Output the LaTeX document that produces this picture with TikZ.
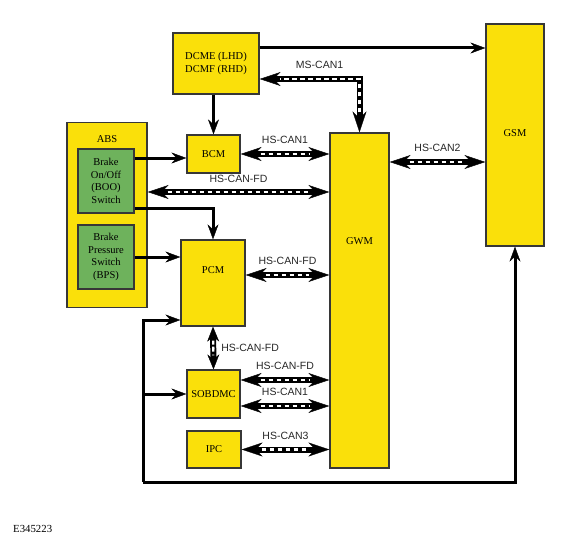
\documentclass[tikz,border=0pt]{standalone}
\usepackage{fontspec}
\setmainfont{Liberation Serif}
\setsansfont{Liberation Sans}
\usetikzlibrary{arrows.meta}

\definecolor{modyellow}{RGB}{250,224,10}
\definecolor{absgreen}{RGB}{110,178,92}
\definecolor{boxline}{RGB}{55,55,55}

\begin{document}
\begin{tikzpicture}[x=1pt, y=-1pt,
  font=\fontsize{10.5}{12.5}\selectfont,
  module/.style={draw=boxline, line width=1.3pt, fill=modyellow,
    inner sep=0pt, align=center},
  switchbox/.style={module, fill=absgreen},
  link/.style={line width=3pt,
    -{Stealth[length=15pt, width=11pt, inset=5pt, line width=0.4pt]}},
  canbus/.style={line width=6pt,
    {Stealth[length=21pt, width=14pt, inset=7pt, line width=0.4pt]}-{Stealth[length=21pt, width=14pt, inset=7pt, line width=0.4pt]},
    postaction={draw, -, white, line width=2.3pt,
      dash pattern=on 4.5pt off 3.5pt, shorten >=20pt, shorten <=20pt}},
  shortbus/.style={canbus,
    {Stealth[length=15pt, width=12pt, inset=5pt, line width=0.4pt]}-{Stealth[length=15pt, width=12pt, inset=5pt, line width=0.4pt]},
    postaction={draw, -, white, line width=2.3pt,
      dash pattern=on 4pt off 3pt, shorten >=14pt, shorten <=14pt}},
  canlabel/.style={font=\sffamily\fontsize{10.5}{12}\selectfont,
    text=black!85, inner sep=1pt}]
\useasboundingbox (0,0) rectangle (573,551);

% modules
\node[module, minimum width=86pt, minimum height=61pt] (dcme) at (216,63.5)
  {DCME (LHD)\\DCMF (RHD)};
\node[module, minimum width=58pt, minimum height=222pt,
  label={[yshift=2pt]center:GSM}] (gsm) at (515,135) {};
\node[module, minimum width=80pt, minimum height=185pt,
  label={[anchor=north, yshift=-10pt]north:ABS}] (abs) at (107,215) {};
\node[switchbox, minimum width=56pt, minimum height=64pt] (boo) at (106,181)
  {Brake\\On/Off\\(BOO)\\Switch};
\node[switchbox, minimum width=56pt, minimum height=64pt] (bps) at (106,257)
  {Brake\\Pressure\\Switch\\(BPS)};
\node[module, minimum width=53pt, minimum height=38pt] (bcm) at (213.5,154) {BCM};
\node[module, minimum width=64pt, minimum height=86pt,
  label={[yshift=13pt]center:PCM}] (pcm) at (213,283) {};
\node[module, minimum width=59pt, minimum height=335pt,
  label={[yshift=59.5pt]center:GWM}] (gwm) at (359.5,300.5) {};
\node[module, minimum width=53pt, minimum height=48pt] (sobdmc) at (213.5,394) {SOBDMC};
\node[module, minimum width=54pt, minimum height=37pt] (ipc) at (214,449.5) {IPC};

\node[anchor=west, inner sep=0pt, font=\fontsize{10.8}{12}\selectfont] (fig) at (13,529) {E345223};

% hard wired
\draw[link] (dcme.east |- 0,48) -- (gsm.west |- 0,48);
\draw[link] (bcm.north |- dcme.south) -- (bcm.north);
\draw[link] (boo.east |- 0,158) -- (bcm.west |- 0,158);
\draw[link] (boo.east |- 0,208) -| (pcm.north);
\draw[link] (bps.east) -- (pcm.west |- bps.east);
\coordinate (loop) at (143,482);
\draw[link] (loop) |- (pcm.west |- 0,320);
\draw[link] (loop |- sobdmc.west) -- (sobdmc.west);
\draw[link] (loop) -- (loop -| gsm.south) -- (gsm.south);

% networks
\draw[canbus] (gwm.north) |- (dcme.east |- 0,79)
  node[canlabel, pos=0.7, above=6pt] {MS-CAN1};
\draw[canbus] (bcm.east) -- (gwm.west |- bcm.east)
  node[canlabel, midway, above=6pt] {HS-CAN1};
\draw[canbus] (abs.east |- 0,192) -- (gwm.west |- 0,192)
  node[canlabel, midway, above=5pt] {HS-CAN-FD};
\draw[canbus] (pcm.east |- 0,275) -- (gwm.west |- 0,275)
  node[canlabel, midway, above=6pt] {HS-CAN-FD};
\draw[shortbus] (pcm.south) -- (sobdmc.north)
  node[canlabel, midway, right=4pt] {HS-CAN-FD};
\draw[canbus] (sobdmc.east |- 0,380) -- (gwm.west |- 0,380)
  node[canlabel, midway, above=6pt] {HS-CAN-FD};
\draw[canbus] (sobdmc.east |- 0,406) -- (gwm.west |- 0,406)
  node[canlabel, midway, above=6pt] {HS-CAN1};
\draw[canbus] (ipc.east) -- (gwm.west |- ipc.east)
  node[canlabel, midway, above=6pt] {HS-CAN3};
\draw[canbus] (gwm.east |- 0,162) -- (gsm.west |- 0,162)
  node[canlabel, midway, above=6pt] {HS-CAN2};
\end{tikzpicture}
\end{document}
